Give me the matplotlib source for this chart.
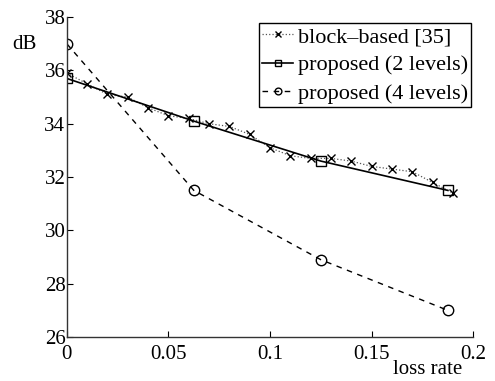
""" Loss rate vs PSNR """

import numpy as np
import matplotlib
matplotlib.use('Agg')
import matplotlib.pyplot as plt

plt.rcParams['font.family'] = ['Liberation Serif', 'DejaVu Serif']
plt.rcParams['mathtext.fontset'] = 'stix'

# block-based [35]
block_x = [0.0, 0.01, 0.02, 0.03, 0.04, 0.05, 0.06, 0.07, 0.08, 0.09,
           0.10, 0.11, 0.12, 0.13, 0.14, 0.15, 0.16, 0.17, 0.18, 0.19]
block_y = [35.9, 35.5, 35.1, 35.0, 34.6, 34.3, 34.2, 34.0, 33.9, 33.6,
           33.1, 32.8, 32.7, 32.7, 32.6, 32.4, 32.3, 32.2, 31.8, 31.4]
# proposed (2 levels)
two_x = [0.0, 0.0625, 0.125, 0.1875]
two_y = [35.7, 34.1, 32.6, 31.5]
# proposed (4 levels)
four_x = [0.0, 0.0625, 0.125, 0.1875]
four_y = [37.0, 31.5, 28.9, 27.0]

x_ticks = [0, 0.05, 0.1, 0.15, 0.2]
x_labels = ['0', '0.05', '0.1', '0.15', '0.2']
y_ticks = [26, 28, 30, 32, 34, 36, 38]

fig = plt.figure(figsize=(4.95, 3.81), dpi=100)
ax = fig.add_axes([0.135, 0.1155, 0.821, 0.8395])

ax.plot(block_x, block_y, color='#555555', linestyle=':', linewidth=0.9,
        marker='x', markersize=6, markeredgewidth=1.0, markeredgecolor='black',
        label='block\u2013based [35]')
ax.plot(two_x, two_y, color='black', linestyle='-', linewidth=1.2,
        marker='s', markersize=6.5, markerfacecolor='none', markeredgewidth=1.0,
        label='proposed (2 levels)')
ax.plot(four_x, four_y, color='black', linestyle='--', linewidth=1.0,
        dashes=(4, 4), marker='o', markersize=7.5, markerfacecolor='none',
        markeredgewidth=1.0, label='proposed (4 levels)')

ax.set_xlim(0, 0.2)
ax.set_ylim(26, 38)
ax.set_xticks(x_ticks)
ax.set_xticklabels(x_labels)
ax.set_yticks(y_ticks)
ax.tick_params(direction='in', length=4, width=0.8, labelsize=15)
ax.tick_params(axis='y', pad=1)
ax.tick_params(axis='x', pad=6)
for side in ['top', 'right']:
    ax.spines[side].set_visible(False)
for side in ['left', 'bottom']:
    ax.spines[side].set_color('#333333')
    ax.spines[side].set_linewidth(1.0)

fig.text(0.025, 0.882, 'dB', fontsize=15, ha='left', va='center')
fig.text(0.933, 0.005, 'loss rate', fontsize=15, ha='right', va='bottom')

leg = ax.legend(loc='upper right', bbox_to_anchor=(0.995, 0.981),
                fontsize=16, frameon=True, fancybox=False,
                edgecolor='black', framealpha=1, handlelength=1.4,
                handletextpad=0.2, borderpad=0.15, labelspacing=0.35,
                borderaxespad=0.0, markerscale=0.65)
leg.get_frame().set_linewidth(1.0)

fig.savefig('out.png', dpi=100)
